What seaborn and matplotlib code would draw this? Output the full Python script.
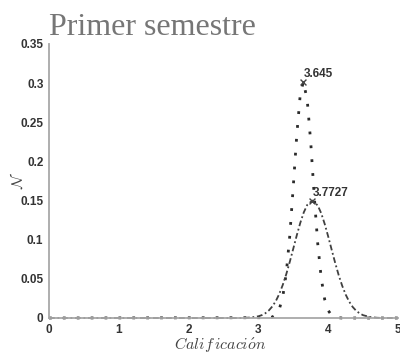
import matplotlib
matplotlib.use("Agg")
import matplotlib.pyplot as plt
import seaborn as sns

# Fitted distribution curves for the first semester grades
x_narrow = [0.0, 3.15, 3.20, 3.25, 3.30, 3.35, 3.40, 3.45, 3.50, 3.55, 3.60, 3.645,
            3.70, 3.75, 3.80, 3.85, 3.90, 3.95, 4.00, 4.05, 4.10, 4.15, 4.20, 5.0]
y_narrow = [0.0, 0.0004, 0.0013, 0.0041, 0.0114, 0.0276, 0.0578, 0.1057, 0.1686, 0.2340,
            0.2860, 0.3020, 0.2780, 0.2240, 0.1560, 0.0950, 0.0510, 0.0236, 0.0096, 0.0033,
            0.0010, 0.0003, 0.0, 0.0]

x_wide = [0.0, 2.70, 2.80, 2.90, 3.00, 3.05, 3.10, 3.15, 3.20, 3.25, 3.30, 3.35, 3.40,
          3.45, 3.50, 3.55, 3.60, 3.65, 3.70, 3.7727, 3.85, 3.90, 3.95, 4.00, 4.05,
          4.10, 4.15, 4.20, 4.25, 4.30, 4.35, 4.40, 4.45, 4.50, 4.60, 4.70, 4.80, 5.0]
y_wide = [0.0, 0.0, 0.0002, 0.0007, 0.0022, 0.0037, 0.0061, 0.0097, 0.0148, 0.0217,
          0.0309, 0.0425, 0.0562, 0.0719, 0.0887, 0.1057, 0.1215, 0.1349, 0.1445,
          0.1500, 0.1438, 0.1338, 0.1201, 0.1041, 0.0871, 0.0704, 0.0548, 0.0413,
          0.0300, 0.0210, 0.0142, 0.0093, 0.0059, 0.0036, 0.0012, 0.0003, 0.0, 0.0]

peak_x = [3.645, 3.7727]
peak_y = [0.3020, 0.1500]
peak_labels = ["3.645", "3.7727"]

x_ticks = [0, 1, 2, 3, 4, 5]
y_ticks = [0, 0.05, 0.1, 0.15, 0.2, 0.25, 0.3, 0.35]
y_ticklabels = ["0", "0.05", "0.1", "0.15", "0.2", "0.25", "0.3", "0.35"]

sns.set_theme(style="white")
plt.rcParams["mathtext.fontset"] = "cm"
plt.rcParams["font.family"] = ["Liberation Sans", "DejaVu Sans"]

fig = plt.figure(figsize=(4.0, 3.52), dpi=100)
ax = fig.add_axes([49 / 400, 1 - 318 / 352, 349 / 400, 274 / 352])

sns.lineplot(x=x_narrow, y=y_narrow, ax=ax, color="#2a2a2a", linewidth=2.0,
             linestyle=(0, (1, 4)), clip_on=False)
sns.lineplot(x=x_wide, y=y_wide, ax=ax, color="#404040", linewidth=1.3,
             linestyle=(0, (3.2, 1.5, 1, 1.5)), clip_on=False)

sns.scatterplot(x=peak_x, y=peak_y, ax=ax, marker="x", s=18, color="#444444",
                linewidth=1.0, zorder=5)
for px, py, lab in zip(peak_x, peak_y, peak_labels):
    ax.annotate(lab, (px, py), xytext=(0, 8), textcoords="offset pixels",
                ha="left", va="center", fontsize=8.5, color="#333333",
                fontweight="bold")

ax.set_xlim(0, 5)
ax.set_ylim(0, 0.35)
ax.set_xticks(x_ticks)
ax.set_yticks(y_ticks)
ax.set_yticklabels(y_ticklabels)
ax.tick_params(axis="both", direction="in", length=3, width=0.8, color="#9a9a9a",
               labelsize=8.5, labelcolor="#333333", pad=4)
for lbl in ax.get_xticklabels() + ax.get_yticklabels():
    lbl.set_fontweight("bold")

for side in ("top", "right"):
    ax.spines[side].set_visible(False)
for side in ("left", "bottom"):
    ax.spines[side].set_color("#a8a8a8")
    ax.spines[side].set_linewidth(1.3)

fig.text(220 / 400, 1 - 344 / 352, r"$Calif\,icaci\acute{o}n$", fontsize=11.5,
         color="#444444", ha="center", va="center")
fig.text(17 / 400, 1 - 180 / 352, r"$\mathcal{N}$", fontsize=11, color="#444444",
         ha="center", va="center", rotation=90)

fig.text(49 / 400, 1 - 35 / 352, "Primer semestre", family="Liberation Serif",
         fontsize=23, color="#767676", ha="left", va="baseline")

fig.savefig("out.png", dpi=100)
